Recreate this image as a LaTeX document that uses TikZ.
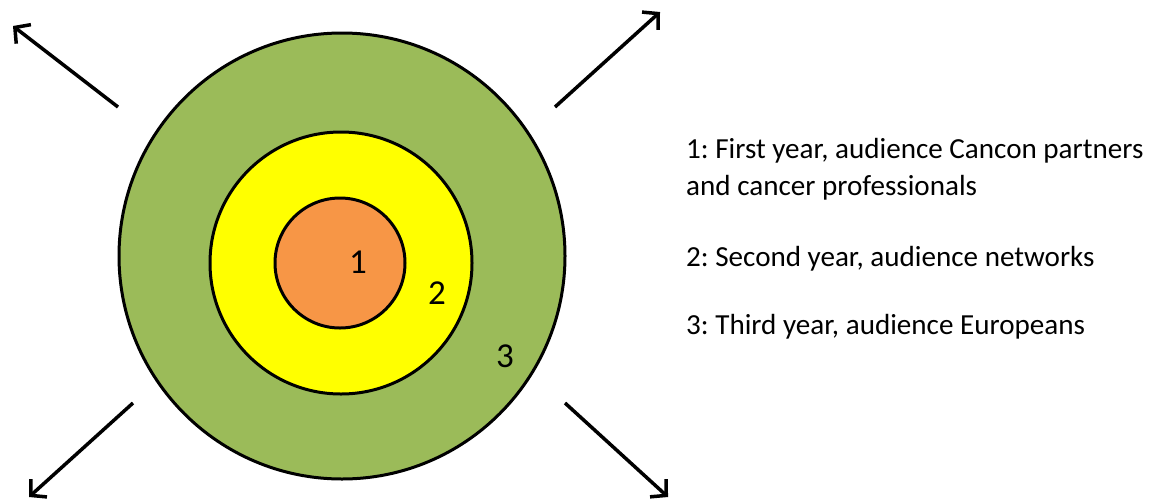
\documentclass[tikz,border=0pt]{standalone}
\usepackage{fontspec}
\setmainfont{Carlito}
\usetikzlibrary{arrows.meta}
\definecolor{ringgreen}{RGB}{155,187,89}
\definecolor{ringyellow}{RGB}{255,255,0}
\definecolor{ringorange}{RGB}{247,150,70}
\tikzset{
  ring/.style={circle,draw=black,line width=3pt,inner sep=0pt},
  ringnum/.style={inner sep=0pt,font=\fontsize{35}{38}\selectfont},
  legend/.style={anchor=base west,inner sep=0pt,align=left,
    font=\fontsize{29.1}{37}\selectfont},
  spread/.style={line width=3.5pt,-{Straight Barb[length=11pt,width=24pt,line width=3.5pt]}}
}
\frenchspacing
\begin{document}
\begin{tikzpicture}[x=1pt,y=-1pt]
    % cadre
    \useasboundingbox (0,0) rectangle (1151,499);
    % cercles
    \node[ring,fill=ringgreen,minimum size=446pt] (outer) at (342,256) {};
    \node[ring,fill=ringyellow,minimum size=262pt] (middle) at (341,263) {};
    \node[ring,fill=ringorange,minimum size=130pt] (inner) at (340,263) {};
    % numéros
    \node[ringnum] (n1) at (358,262) {1};
    \node[ringnum] (n2) at (437,293) {2};
    \node[ringnum] (n3) at (505,356) {3};
    % flèches
    \coordinate (tlA) at (118,107); \coordinate (tlB) at (13,26);
    \coordinate (trA) at (555,107); \coordinate (trB) at (660,12);
    \coordinate (blA) at (133,403); \coordinate (blB) at (29,497);
    \coordinate (brA) at (565,403); \coordinate (brB) at (668,497);
    \draw[spread] (tlA) -- (tlB);
    \draw[spread] (trA) -- (trB);
    \draw[spread] (blA) -- (blB);
    \draw[spread] (brA) -- (brB);
    % légende
    \node[legend] (l1) at (686,195) {1: First year, audience Cancon partners\\and cancer professionals};
    \node[legend] (l2) at (686,266) {2: Second year, audience networks};
    \node[legend] (l3) at (686,334) {3: Third year, audience Europeans};
\end{tikzpicture}
\end{document}
